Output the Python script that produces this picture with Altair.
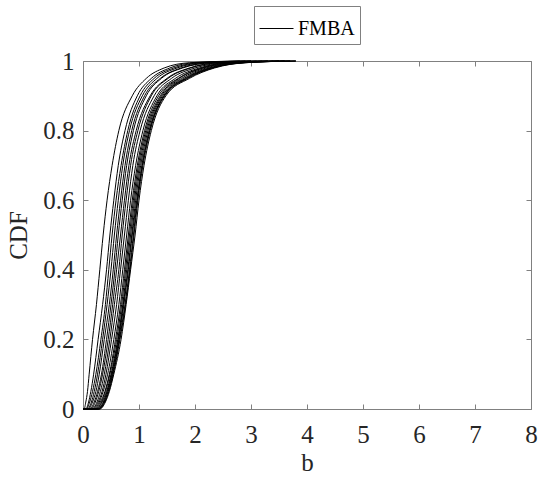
import altair as alt
import pandas as pd

levels = [0.0, 0.0, 0.02, 0.05, 0.1, 0.2, 0.3, 0.4, 0.5, 0.6, 0.7, 0.8, 0.9, 0.95, 0.98, 0.995, 1.0]

curves = {
    "c01": [0.0, 0.02, 0.05, 0.08, 0.11, 0.17, 0.24, 0.30, 0.36, 0.43, 0.52, 0.64, 0.88, 1.13, 1.45, 1.90, 2.80],
    "c02": [0.0, 0.05, 0.10, 0.14, 0.19, 0.27, 0.35, 0.42, 0.48, 0.55, 0.63, 0.75, 0.97, 1.22, 1.55, 2.00, 2.90],
    "c03": [0.0, 0.06, 0.12, 0.17, 0.23, 0.32, 0.40, 0.46, 0.52, 0.59, 0.68, 0.80, 1.02, 1.27, 1.62, 2.10, 3.00],
    "c04": [0.0, 0.08, 0.15, 0.20, 0.26, 0.35, 0.43, 0.50, 0.56, 0.63, 0.71, 0.83, 1.06, 1.32, 1.68, 2.15, 3.00],
    "c05": [0.0, 0.10, 0.17, 0.23, 0.29, 0.38, 0.47, 0.54, 0.60, 0.67, 0.75, 0.87, 1.10, 1.38, 1.75, 2.25, 3.10],
    "c06": [0.0, 0.12, 0.20, 0.26, 0.33, 0.42, 0.50, 0.57, 0.63, 0.70, 0.78, 0.90, 1.13, 1.40, 1.78, 2.30, 3.20],
    "c07": [0.0, 0.14, 0.22, 0.28, 0.35, 0.45, 0.53, 0.60, 0.67, 0.74, 0.82, 0.95, 1.20, 1.50, 1.90, 2.40, 3.30],
    "c08": [0.0, 0.16, 0.25, 0.31, 0.38, 0.48, 0.56, 0.64, 0.70, 0.77, 0.85, 0.98, 1.22, 1.52, 1.92, 2.45, 3.30],
    "c09": [0.0, 0.18, 0.27, 0.34, 0.41, 0.51, 0.60, 0.67, 0.74, 0.81, 0.89, 1.02, 1.27, 1.58, 2.00, 2.55, 3.40],
    "c10": [0.0, 0.20, 0.29, 0.36, 0.44, 0.55, 0.64, 0.71, 0.78, 0.85, 0.94, 1.07, 1.32, 1.65, 2.08, 2.60, 3.50],
    "c11": [0.0, 0.22, 0.31, 0.39, 0.47, 0.58, 0.67, 0.74, 0.81, 0.88, 0.97, 1.10, 1.35, 1.70, 2.12, 2.65, 3.50],
    "c12": [0.0, 0.23, 0.33, 0.40, 0.48, 0.60, 0.69, 0.76, 0.83, 0.90, 0.99, 1.12, 1.38, 1.72, 2.15, 2.70, 3.60],
    "c13": [0.0, 0.25, 0.34, 0.42, 0.50, 0.62, 0.71, 0.78, 0.85, 0.92, 1.01, 1.14, 1.40, 1.76, 2.20, 2.75, 3.60],
    "c14": [0.0, 0.26, 0.36, 0.43, 0.51, 0.63, 0.72, 0.80, 0.87, 0.94, 1.03, 1.16, 1.42, 1.80, 2.25, 2.80, 3.70],
    "c15": [0.0, 0.27, 0.37, 0.44, 0.52, 0.64, 0.73, 0.81, 0.88, 0.96, 1.05, 1.18, 1.44, 1.83, 2.28, 2.82, 3.70],
    "c16": [0.0, 0.28, 0.38, 0.45, 0.53, 0.65, 0.75, 0.83, 0.90, 0.97, 1.06, 1.19, 1.45, 1.85, 2.30, 2.85, 3.80],
    "c17": [0.0, 0.29, 0.39, 0.46, 0.54, 0.66, 0.76, 0.84, 0.91, 0.98, 1.07, 1.20, 1.46, 1.87, 2.32, 2.88, 3.80],
    "c18": [0.0, 0.30, 0.40, 0.47, 0.55, 0.68, 0.77, 0.85, 0.93, 1.00, 1.09, 1.22, 1.48, 1.90, 2.35, 2.90, 3.80],
}

x_ticks = [0, 1, 2, 3, 4, 5, 6, 7, 8]
y_ticks = [0, 0.2, 0.4, 0.6, 0.8, 1.0]
series_name = "FMBA"

rows = []
for name, xs in curves.items():
    for i, (xv, yv) in enumerate(zip(xs, levels)):
        rows.append({"curve": name, "idx": i, "b": xv, "cdf": yv, "series": series_name})
df = pd.DataFrame(rows)

FONT = "Liberation Serif"
GREY = "#808080"
TXT = "#262626"

xscale = alt.Scale(domain=[0, 8], nice=False, zero=False)
yscale = alt.Scale(domain=[0, 1], nice=False, zero=False)

x_axis_bottom = alt.Axis(
    values=x_ticks, orient="bottom", title="b", domain=False, grid=False,
    tickSize=5, tickColor=GREY, offset=-5, labelPadding=13,
    labelFont=FONT, labelFontSize=25, labelColor=TXT, labelFlush=False,
    labelOverlap=False, format="d",
    titleFont=FONT, titleFontSize=25, titleFontWeight="normal", titleColor=TXT,
    titleBaseline="alphabetic", titleY=66,
)
y_axis_left = alt.Axis(
    values=y_ticks, orient="left", title="CDF", domain=False, grid=False,
    tickSize=5, tickColor=GREY, offset=-5, labelPadding=9,
    labelFont=FONT, labelFontSize=25, labelColor=TXT, format=".1~f",
    labelOverlap=False, labelFlush=False,
    titleFont=FONT, titleFontSize=25, titleFontWeight="normal", titleColor=TXT,
    titleBaseline="middle", titleX=-70, titleY=174, titleAngle=-90,
)
x_axis_top = alt.Axis(
    values=x_ticks, orient="top", title=None, domain=False, grid=False,
    labels=False, tickSize=5, tickColor=GREY, offset=-5,
)
y_axis_right = alt.Axis(
    values=y_ticks, orient="right", title=None, domain=False, grid=False,
    labels=False, tickSize=5, tickColor=GREY, offset=-5,
)

lines = alt.Chart(df).mark_line(strokeWidth=1, interpolate="monotone").encode(
    x=alt.X("b:Q", scale=xscale, axis=x_axis_bottom),
    y=alt.Y("cdf:Q", scale=yscale, axis=y_axis_left),
    detail="curve:N",
    order="idx:Q",
    color=alt.Color(
        "series:N",
        scale=alt.Scale(domain=[series_name], range=["black"]),
        legend=alt.Legend(
            title=None, orient="none", legendX=171, legendY=-55,
            symbolType="stroke", symbolSize=1156, symbolStrokeWidth=1,
            symbolStrokeColor="black",
            labelFont=FONT, labelFontSize=20, labelColor="black", labelOffset=4,
            padding=5, strokeColor=GREY, fillColor="white",
        ),
    ),
)

frame = alt.Chart(df).mark_line(opacity=0).encode(
    x=alt.X("b:Q", scale=xscale, axis=x_axis_top),
    y=alt.Y("cdf:Q", scale=yscale, axis=y_axis_right),
    detail="curve:N",
)

chart = (
    alt.layer(lines, frame)
    .resolve_axis(x="independent", y="independent")
    .properties(
        width=448, height=348,
        autosize=alt.AutoSizeParams(type="none"),
        padding={"left": 83, "top": 61, "right": 8, "bottom": 68},
        background="white",
    )
    .configure_view(stroke=GREY, strokeWidth=1)
)

chart.save("out.html", embed_options={"renderer": "svg", "actions": False})
